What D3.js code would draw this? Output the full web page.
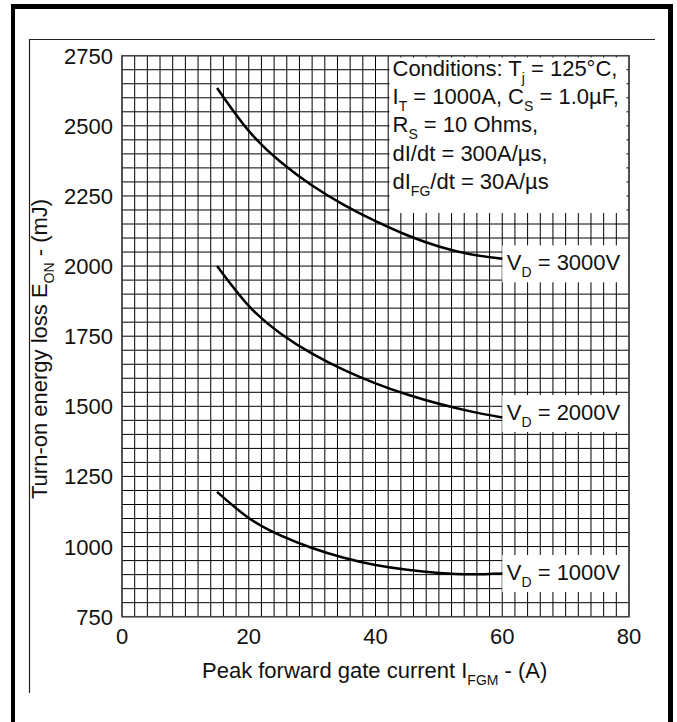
<!DOCTYPE html>
<html>
<head>
<meta charset="utf-8">
<script src="https://cdn.jsdelivr.net/npm/d3@7"></script>
<style>
  html, body { margin: 0; padding: 0; background: #fff; }
  svg text { font-family: "Liberation Sans", Arial, sans-serif; fill: #111; }
</style>
</head>
<body>
<div id="chart"></div>
<script>
// gate current (A) and turn-on energy (mJ) for each blocking voltage
const currentA = [15, 20, 25, 30, 35, 40, 45, 50, 55, 60];
const eon3000 = [2635, 2482, 2372, 2287, 2218, 2160, 2110, 2070, 2042, 2026];
const eon2000 = [2000, 1858, 1760, 1688, 1630, 1582, 1542, 1509, 1482, 1460];
const eon1000 = [1195, 1102, 1040, 995, 960, 934, 917, 906, 901, 904];
const voltageLabels = ["3000V", "2000V", "1000V"];

const xTicks = [0, 20, 40, 60, 80];
const yTicks = [750, 1000, 1250, 1500, 1750, 2000, 2250, 2500, 2750];

const width = 677, height = 722;
const plot = { left: 122, top: 55.7, right: 629, bottom: 616.7 };

const svg = d3.select("#chart").append("svg")
  .attr("width", width)
  .attr("height", height);

const x = d3.scaleLinear().domain([0, 80]).range([plot.left, plot.right]);
const y = d3.scaleLinear().domain([750, 2750]).range([plot.bottom, plot.top]);

// text with subscript pieces: parts = [[str, isSub], ...]
function rich(sel, parts, subSize = 14, shift = 7) {
  let down = false;
  parts.forEach(([str, sub]) => {
    const t = sel.append("tspan").text(str);
    if (sub && !down) { t.attr("dy", shift).attr("font-size", subSize); down = true; }
    else if (sub) { t.attr("font-size", subSize); }
    else if (down) { t.attr("dy", -shift); down = false; }
  });
  return sel;
}

// outer frame
svg.append("rect").attr("x", 11).attr("y", 4).attr("width", 662).attr("height", 5).attr("fill", "#000");
svg.append("rect").attr("x", 11).attr("y", 4).attr("width", 4).attr("height", 718).attr("fill", "#000");
svg.append("rect").attr("x", 668).attr("y", 4).attr("width", 5).attr("height", 718).attr("fill", "#000");

// inner thin frame lines
svg.append("line").attr("x1", 29).attr("x2", 655).attr("y1", 39.5).attr("y2", 39.5)
  .attr("stroke", "#222").attr("stroke-width", 1.2);
svg.append("line").attr("x1", 29.5).attr("x2", 29.5).attr("y1", 39).attr("y2", 693)
  .attr("stroke", "#222").attr("stroke-width", 1.2);

// grid: 2 A by 50 mJ
const grid = svg.append("g").attr("stroke", "#000").attr("stroke-width", 1);
grid.selectAll(".gx").data(d3.range(0, 81, 2)).join("line")
  .attr("x1", d => x(d)).attr("x2", d => x(d))
  .attr("y1", plot.top).attr("y2", plot.bottom);
grid.selectAll(".gy").data(d3.range(750, 2751, 50)).join("line")
  .attr("x1", plot.left).attr("x2", plot.right)
  .attr("y1", d => y(d)).attr("y2", d => y(d));

svg.append("rect")
  .attr("x", plot.left).attr("y", plot.top)
  .attr("width", plot.right - plot.left).attr("height", plot.bottom - plot.top)
  .attr("fill", "none").attr("stroke", "#444").attr("stroke-width", 1.5);

// conditions box
svg.append("rect").attr("x", 389.5).attr("y", 57.5).attr("width", 237).attr("height", 155.5).attr("fill", "#fff");
const cond = [
  [["Conditions: T"], ["j", true], [" = 125°C,"]],
  [["I"], ["T", true], [" = 1000A, C"], ["S", true], [" = 1.0µF,"]],
  [["R"], ["S", true], [" = 10 Ohms,"]],
  [["dI/dt = 300A/µs,"]],
  [["dI"], ["FG", true], ["/dt = 30A/µs"]]
];
cond.forEach((parts, i) => {
  rich(svg.append("text").attr("x", 392.5).attr("y", 76 + i * 28.2).attr("font-size", 22), parts);
});

// curves
const line = d3.line()
  .x((d, i) => x(currentA[i]))
  .y(d => y(d))
  .curve(d3.curveNatural);

const series = [eon3000, eon2000, eon1000];
const labelDy = [11, 2, 6];
series.forEach((vals, k) => {
  const base = y(vals[vals.length - 1]) + labelDy[k];
  svg.append("rect").attr("x", x(60)).attr("y", base - 24.5)
    .attr("width", plot.right - 1 - x(60)).attr("height", 37).attr("fill", "#fff");
  svg.append("path").datum(vals).attr("d", line)
    .attr("fill", "none").attr("stroke", "#000").attr("stroke-width", 2.5);
  rich(svg.append("text").attr("x", x(60) + 4.5).attr("y", base).attr("font-size", 22),
    [["V"], ["D", true], [" = " + voltageLabels[k]]]);
});

// axis tick labels
svg.selectAll(".xl").data(xTicks).join("text")
  .attr("x", d => x(d)).attr("y", 644)
  .attr("text-anchor", "middle").attr("font-size", 22)
  .text(d => d);
svg.selectAll(".yl").data(yTicks).join("text")
  .attr("x", 113).attr("y", d => y(d) + 8)
  .attr("text-anchor", "end").attr("font-size", 22)
  .text(d => d);

// axis titles
rich(svg.append("text").attr("x", 202).attr("y", 678).attr("font-size", 22),
  [["Peak forward gate current I"], ["FGM", true], [" - (A)"]]);
rich(svg.append("text")
    .attr("transform", "translate(47,499) rotate(-90)")
    .attr("font-size", 22),
  [["Turn-on energy loss E"], ["ON", true], [" - (mJ)"]]);
</script>
</body>
</html>
